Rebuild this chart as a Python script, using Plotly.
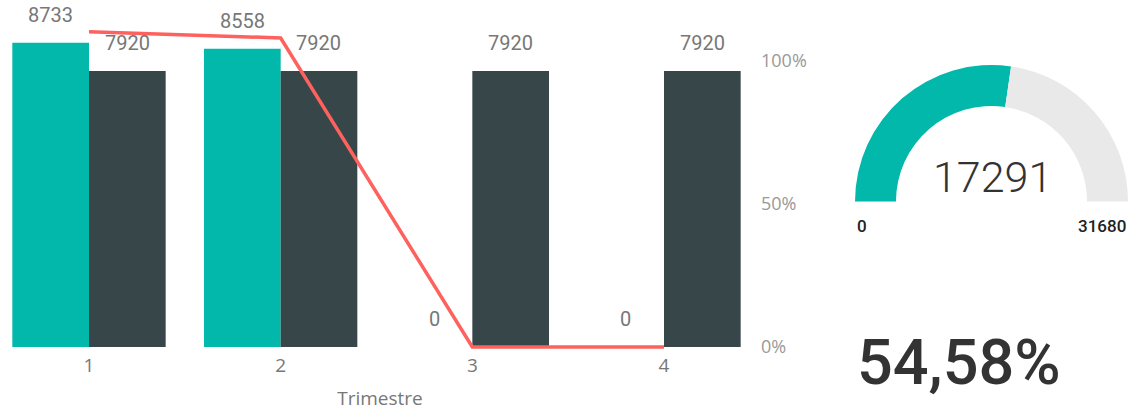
import plotly.graph_objects as go

# ---- data ----
trimestres = [1, 2, 3, 4]
tick_labels = ["1", "2", "3", "4"]
real_values = [8733, 8558, 0, 0]
meta_values = [7920, 7920, 7920, 7920]
pct_ticks = [0, 0.5, 1]

total_real = sum(real_values)
total_meta = sum(meta_values)
ratio_line = [r / m for r, m in zip(real_values, meta_values)]

TEAL = "#01B8AA"
DARK = "#374649"
RED = "#FD625E"
GAUGE_BG = "#E9E9E9"

W, H = 1128, 411
PLOT_RIGHT = 760
BASE_Y = 347
PLOT_BOTTOM = 352
PX_PER_UNIT = 276 / 7920
PX_PER_PCT = 286

fig = go.Figure()

fig.add_trace(go.Bar(x=trimestres, y=real_values, name="Real",
                     marker=dict(color=TEAL, line=dict(width=0))))
fig.add_trace(go.Bar(x=trimestres, y=meta_values, name="Meta",
                     marker=dict(color=DARK, line=dict(width=0))))
fig.add_trace(go.Scatter(x=trimestres, y=ratio_line, yaxis="y2", mode="lines",
                         line=dict(color=RED, width=3.5), name="% Meta"))

# gauge (half donut)
fig.add_trace(go.Pie(
    values=[total_real, total_meta - total_real, total_meta],
    marker=dict(colors=[TEAL, GAUGE_BG, "rgba(0,0,0,0)"], line=dict(width=0)),
    hole=0.70, sort=False, direction="clockwise", rotation=-90,
    textinfo="none", hoverinfo="skip", showlegend=False,
    domain=dict(x=[855 / W, 1.0], y=[(H - 338) / H, (H - 65) / H]),
))

annotations = []
lab_font = dict(family="Roboto, sans-serif", size=20, color="#777777")
for x, r, m in zip(trimestres, real_values, meta_values):
    annotations.append(dict(x=x, y=r, xref="x", yref="y", text=str(r), showarrow=False,
                            xanchor="center", yanchor="middle",
                            xshift=-38.3, yshift=28, font=lab_font))
    annotations.append(dict(x=x, y=m, xref="x", yref="y", text=str(m), showarrow=False,
                            xanchor="center", yanchor="middle",
                            xshift=38.3, yshift=28, font=lab_font))

annotations.append(dict(x=992 / W, y=(H - 177) / H, xref="paper", yref="paper",
                        xanchor="center", yanchor="middle",
                        text=str(total_real), showarrow=False,
                        font=dict(family="Roboto, sans-serif",
                                  size=43, color="#333333", weight=300)))
annotations.append(dict(x=855 / W, y=(H - 226) / H, xref="paper", yref="paper",
                        xanchor="left", yanchor="middle",
                        text="0", showarrow=False,
                        font=dict(family="Roboto, sans-serif", size=17, color="#222222", weight=500)))
annotations.append(dict(x=1.0, y=(H - 226) / H, xref="paper", yref="paper",
                        xanchor="right", yanchor="middle",
                        text=str(total_meta), showarrow=False,
                        font=dict(family="Roboto, sans-serif", size=17, color="#222222", weight=500)))
pct_text = f"{total_real / total_meta * 100:.2f}%".replace(".", ",")
annotations.append(dict(x=855 / W, y=(H - 362) / H, xref="paper", yref="paper",
                        xanchor="left", yanchor="middle",
                        text=pct_text, showarrow=False,
                        font=dict(family="Roboto, sans-serif", size=63, color="#333333", weight=500)))

axis_font = dict(family="Segoe UI, Open Sans, sans-serif", size=19, color="#777777")

fig.update_layout(
    width=W, height=H,
    margin=dict(l=0, r=0, t=0, b=0, autoexpand=False),
    paper_bgcolor="white", plot_bgcolor="white",
    showlegend=False,
    barmode="group", bargap=0.2, bargroupgap=0,
    xaxis=dict(domain=[0, PLOT_RIGHT / W], range=[1 - 89 / 191.67, 4 + 96 / 191.67],
               tickvals=trimestres, ticktext=tick_labels, showgrid=False, zeroline=False,
               showline=False, ticks="", tickfont=axis_font, automargin=False,
               title=dict(text="Trimestre", font=axis_font, standoff=17)),
    yaxis=dict(domain=[(H - PLOT_BOTTOM) / H, 1],
               range=[-(PLOT_BOTTOM - BASE_Y) / PX_PER_UNIT, BASE_Y / PX_PER_UNIT],
               visible=False, automargin=False),
    yaxis2=dict(overlaying="y", side="right", anchor="x",
                range=[-(PLOT_BOTTOM - BASE_Y) / PX_PER_PCT, BASE_Y / PX_PER_PCT],
                tickvals=pct_ticks, tickformat=".0%", showgrid=False, zeroline=False,
                showline=False, ticks="", automargin=False,
                tickfont=dict(family="Segoe UI, Open Sans, sans-serif", size=18, color="#999999")),
    annotations=annotations,
)

fig.write_html("out.html", config={"displayModeBar": False},
               post_script="document.body.style.margin='0';document.body.style.overflow='hidden';")
